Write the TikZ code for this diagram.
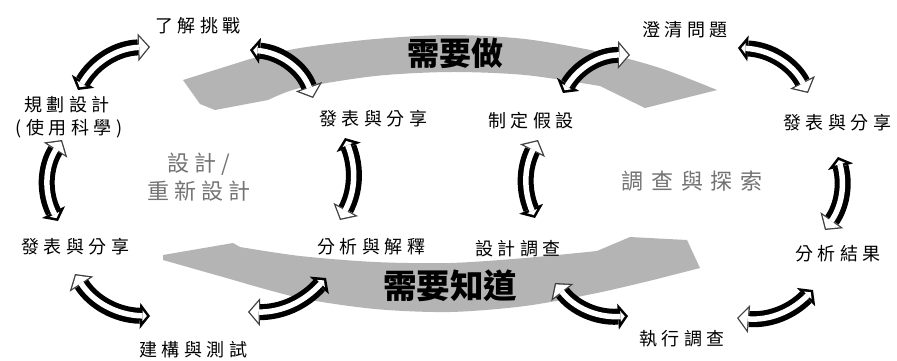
\documentclass[tikz,border=0pt]{standalone}
\usepackage{fontspec}
\newfontfamily\cjk{Noto Sans CJK TC}
\usetikzlibrary{arrows.meta}
\definecolor{bandgray}{RGB}{180,180,180}
\definecolor{softgray}{RGB}{115,115,115}
\tikzset{
  lbl/.style={inner sep=0pt, font=\cjk\fontsize{18}{20}\selectfont\addfontfeature{LetterSpace=25}},
  graylbl/.style={inner sep=0pt, text=softgray, align=center, font=\cjk\fontsize{22}{28}\selectfont\addfontfeature{LetterSpace=22}},
  bigtxt/.style={inner sep=0pt, font=\cjk\bfseries\fontsize{32}{36}\selectfont},
  band/.style={fill=bandgray, draw=none},
  outerarrow/.style={line width=16pt, black,
    {Triangle[width=26pt,length=10pt,line width=0pt]}-{Triangle[width=28pt,length=12pt,line width=0pt,color=black!75]}},
  innerarrow/.style={line width=5.5pt, white,
    {Triangle[width=10.8pt,length=4.3pt,line width=0pt]}-{Triangle[width=21pt,length=9pt,line width=0pt]},
    shorten <=3.2pt, shorten >=1.74pt},
}
\newcommand\hollowarrow[3]{%
  \draw[outerarrow] (#1) to[bend left=#3] (#2);
  \draw[innerarrow] (#1) to[bend left=#3] (#2);
}
\begin{document}
\begin{tikzpicture}[x=1pt,y=-1pt]
\fill[white] (0,0) rectangle (897,360);
\useasboundingbox (0,0) rectangle (897,360);

% big grey bands
\fill[band] (183,80) -- (250,59)
  -- plot[smooth] coordinates {(250,59) (300,48) (375,39) (450,35) (525,39) (600,52) (660,68) (717,90)}
  -- (645,108) -- (600,86)
  -- plot[smooth] coordinates {(600,86) (525,75) (450,72) (375,76) (300,88) (268,100)}
  -- (215,110) -- (200,104) -- cycle;
\fill[band] (163,255) -- (233,243)
  -- plot[smooth] coordinates {(240,247) (300,256) (375,262) (450,263) (525,258) (597,251)}
  -- (630,237) -- (687,240) -- (700,268)
  -- plot[smooth] coordinates {(657,279) (597,293) (525,306) (450,312) (375,309) (300,298) (230,279)}
  -- (163,260) -- cycle;

\node[bigtxt] (zuo) at (455,53) {需要做};
\node[bigtxt, font=\cjk\bfseries\fontsize{33.5}{36}\selectfont] (zhidao) at (450,286) {需要知道};

% labels
\node[lbl] (tiaozhan) at (198,26) {了解挑戰};
\node[lbl] (guihua) at (67,105) {規劃設計};
\node[lbl] (kexue) at (69,129) {(使用科學)};
\node[lbl] (fabiaoL) at (75,247) {發表與分享};
\node[lbl] (jiangou) at (193,350) {建構與測試};
\node[lbl] (fenxiM) at (371,247) {分析與解釋};
\node[lbl] (fabiaoM) at (373,119) {發表與分享};
\node[lbl] (jiashe) at (531,121) {制定假設};
\node[lbl] (chengqing) at (685,30) {澄清問題};
\node[lbl] (fabiaoR) at (837,123) {發表與分享};
\node[lbl] (jieguo) at (838,254) {分析結果};
\node[lbl] (zhixing) at (682,339) {執行調查};
\node[lbl] (sheji) at (518,249) {設計調查};

\node[graylbl] (design) at (199,177) {設計/\\重新設計};
\node[graylbl, font=\cjk\fontsize{22}{28}\selectfont\addfontfeature{LetterSpace=36}] (tansuo) at (692,181) {調查與探索};

% arrow end points
\coordinate (a1s) at (78,90);   \coordinate (a1e) at (150,47);
\coordinate (a2s) at (250,50);  \coordinate (a2e) at (313,98);
\coordinate (a3s) at (58,221);  \coordinate (a3e) at (62,140);
\coordinate (a4s) at (150,316); \coordinate (a4e) at (75,274);
\coordinate (a5s) at (326,278); \coordinate (a5e) at (248,312);
\coordinate (a6s) at (345,138); \coordinate (a6e) at (340,220);
\coordinate (a7s) at (535,218); \coordinate (a7e) at (538,140);
\coordinate (a8s) at (563,93);  \coordinate (a8e) at (630,55);
\coordinate (a9s) at (738,48);  \coordinate (a9e) at (808,93);
\coordinate (a10s) at (838,157); \coordinate (a10e) at (825,230);
\coordinate (a11s) at (813,290); \coordinate (a11e) at (737,318);
\coordinate (a12s) at (628,316); \coordinate (a12e) at (555,283);

\hollowarrow{a1s}{a1e}{29}
\hollowarrow{a2s}{a2e}{33}
\hollowarrow{a3s}{a3e}{30}
\hollowarrow{a4s}{a4e}{28}
\hollowarrow{a5s}{a5e}{24}
\hollowarrow{a6s}{a6e}{25}
\hollowarrow{a7s}{a7e}{25}
\hollowarrow{a8s}{a8e}{30}
\hollowarrow{a9s}{a9e}{30}
\hollowarrow{a10s}{a10e}{25}
\hollowarrow{a11s}{a11e}{25}
\hollowarrow{a12s}{a12e}{28}
\end{tikzpicture}
\end{document}
